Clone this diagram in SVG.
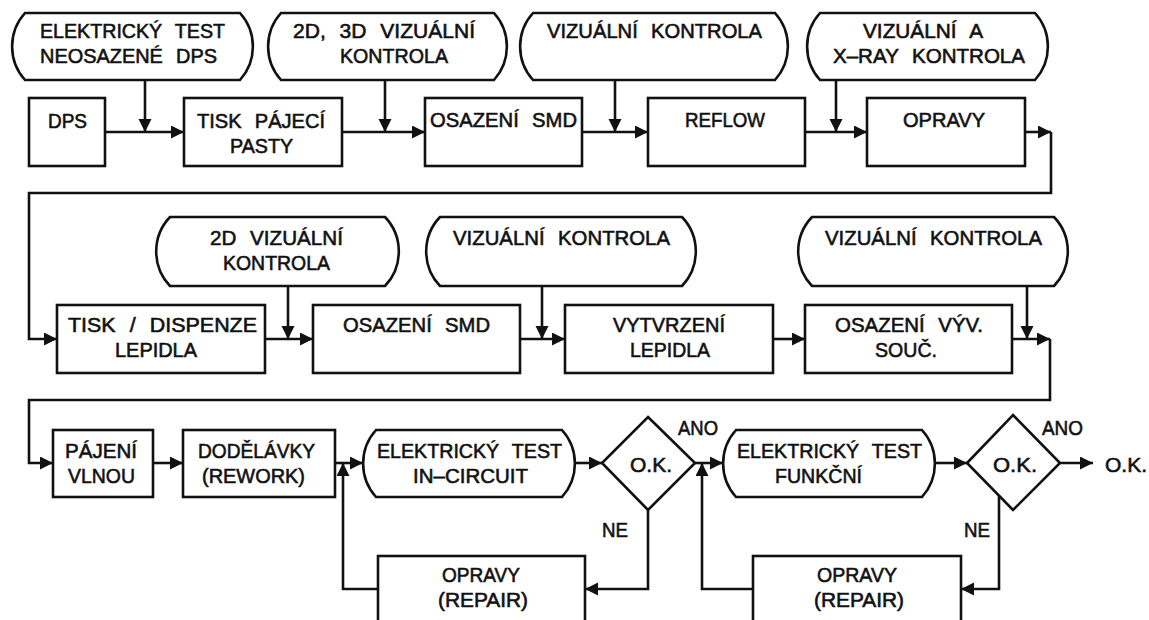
<svg xmlns="http://www.w3.org/2000/svg" width="1149" height="620" viewBox="0 0 1149 620">
<style>
.b{fill:#fff;stroke:#111;stroke-width:2.6}
.c{fill:none;stroke:#111;stroke-width:2.6}
text{font-family:"Liberation Sans",Arial,sans-serif;font-size:21px;fill:#111;stroke:#111;stroke-width:0.6;text-anchor:middle;word-spacing:8px}
</style>
<defs>
<marker id="a" markerUnits="userSpaceOnUse" markerWidth="14" markerHeight="14" refX="13" refY="6.5" orient="auto"><path d="M0,0 L13,6.5 L0,13 z" fill="#111"/></marker>
</defs>
<rect width="1149" height="620" fill="#fff"/>
<g id="connectors" class="c">
<path class="c" d="M105,132 H184" marker-end="url(#a)"/>
<path class="c" d="M145,80 V132" marker-end="url(#a)"/>
<path class="c" d="M342,132 H425" marker-end="url(#a)"/>
<path class="c" d="M385,80 V132" marker-end="url(#a)"/>
<path class="c" d="M582,132 H648" marker-end="url(#a)"/>
<path class="c" d="M615,80 V132" marker-end="url(#a)"/>
<path class="c" d="M805,132 H867" marker-end="url(#a)"/>
<path class="c" d="M836,80 V132" marker-end="url(#a)"/>
<path class="c" d="M1025,132 H1051" marker-end="url(#a)"/>
<path class="c" d="M1051,132 V193 H29 V339 H57" marker-end="url(#a)"/>
<path class="c" d="M265,339 H313" marker-end="url(#a)"/>
<path class="c" d="M288,286 V339" marker-end="url(#a)"/>
<path class="c" d="M520,339 H565" marker-end="url(#a)"/>
<path class="c" d="M542,286 V339" marker-end="url(#a)"/>
<path class="c" d="M773,339 H805" marker-end="url(#a)"/>
<path class="c" d="M1027,286 V339" marker-end="url(#a)"/>
<path class="c" d="M1012,339 H1050" marker-end="url(#a)"/>
<path class="c" d="M1050,339 V400 H29 V463 H53" marker-end="url(#a)"/>
<path class="c" d="M153,463 H183" marker-end="url(#a)"/>
<path class="c" d="M335,463 H363" marker-end="url(#a)"/>
<path class="c" d="M378,589 H343 V463" marker-end="url(#a)"/>
<path class="c" d="M575,463 H602" marker-end="url(#a)"/>
<path class="c" d="M695,463 H723" marker-end="url(#a)"/>
<path class="c" d="M648,510 V589 H585" marker-end="url(#a)"/>
<path class="c" d="M753,589 H702 V463" marker-end="url(#a)"/>
<path class="c" d="M935,463 H967" marker-end="url(#a)"/>
<path class="c" d="M1060,463 H1093" marker-end="url(#a)"/>
<path class="c" d="M999,496 V589 H961" marker-end="url(#a)"/>
</g>
<g id="t1"><path class="b" d="M25,13 H240 A50,50 0 0 1 240,80 H25 A50,50 0 0 1 25,13 Z"/><text x="132.5" y="38" textLength="185" lengthAdjust="spacingAndGlyphs">ELEKTRICKÝ TEST</text><text x="128.5" y="63" textLength="177" lengthAdjust="spacingAndGlyphs">NEOSAZENÉ DPS</text></g>
<g id="t2"><path class="b" d="M281,13 H494 A50,50 0 0 1 494,80 H281 A50,50 0 0 1 281,13 Z"/><text x="384" y="38" textLength="182" lengthAdjust="spacingAndGlyphs">2D, 3D VIZUÁLNÍ</text><text x="394" y="63" textLength="108" lengthAdjust="spacingAndGlyphs">KONTROLA</text></g>
<g id="t3"><path class="b" d="M533,13 H775 A50,50 0 0 1 775,80 H533 A50,50 0 0 1 533,13 Z"/><text x="654.5" y="38" textLength="215" lengthAdjust="spacingAndGlyphs">VIZUÁLNÍ KONTROLA</text></g>
<g id="t4"><path class="b" d="M820,13 H1035 A50,50 0 0 1 1035,80 H820 A50,50 0 0 1 820,13 Z"/><text x="923" y="38" textLength="120" lengthAdjust="spacingAndGlyphs">VIZUÁLNÍ A</text><text x="929" y="63" textLength="192" lengthAdjust="spacingAndGlyphs">X–RAY KONTROLA</text></g>
<g id="dps"><rect class="b" x="29" y="98" width="76" height="68"/><text x="67.5" y="128" textLength="39" lengthAdjust="spacingAndGlyphs">DPS</text></g>
<g id="tisk"><rect class="b" x="184" y="98" width="158" height="68"/><text x="261" y="128" textLength="128" lengthAdjust="spacingAndGlyphs">TISK PÁJECÍ</text><text x="261.5" y="153" textLength="63" lengthAdjust="spacingAndGlyphs">PASTY</text></g>
<g id="osazeni1"><rect class="b" x="425" y="98" width="157" height="68"/><text x="503.5" y="127" textLength="147" lengthAdjust="spacingAndGlyphs">OSAZENÍ SMD</text></g>
<g id="reflow"><rect class="b" x="648" y="98" width="157" height="68"/><text x="725" y="127" textLength="80" lengthAdjust="spacingAndGlyphs">REFLOW</text></g>
<g id="opravy1"><rect class="b" x="867" y="98" width="158" height="68"/><text x="944" y="127" textLength="82" lengthAdjust="spacingAndGlyphs">OPRAVY</text></g>
<g id="t5"><path class="b" d="M170,217 H385 A50,50 0 0 1 385,286 H170 A50,50 0 0 1 170,217 Z"/><text x="276.5" y="245" textLength="133" lengthAdjust="spacingAndGlyphs">2D VIZUÁLNÍ</text><text x="276.5" y="270" textLength="107" lengthAdjust="spacingAndGlyphs">KONTROLA</text></g>
<g id="t6"><path class="b" d="M440,217 H682 A50,50 0 0 1 682,286 H440 A50,50 0 0 1 440,217 Z"/><text x="561.5" y="245" textLength="217" lengthAdjust="spacingAndGlyphs">VIZUÁLNÍ KONTROLA</text></g>
<g id="t7"><path class="b" d="M812,217 H1054 A50,50 0 0 1 1054,286 H812 A50,50 0 0 1 812,217 Z"/><text x="933.5" y="245" textLength="217" lengthAdjust="spacingAndGlyphs">VIZUÁLNÍ KONTROLA</text></g>
<g id="disp"><rect class="b" x="57" y="305" width="208" height="68"/><text x="162.5" y="332" textLength="189" lengthAdjust="spacingAndGlyphs">TISK / DISPENZE</text><text x="156" y="357" textLength="82" lengthAdjust="spacingAndGlyphs">LEPIDLA</text></g>
<g id="osazeni2"><rect class="b" x="313" y="305" width="207" height="68"/><text x="416.5" y="332" textLength="147" lengthAdjust="spacingAndGlyphs">OSAZENÍ SMD</text></g>
<g id="vytvrz"><rect class="b" x="565" y="305" width="208" height="68"/><text x="669" y="332" textLength="112" lengthAdjust="spacingAndGlyphs">VYTVRZENÍ</text><text x="670" y="357" textLength="80" lengthAdjust="spacingAndGlyphs">LEPIDLA</text></g>
<g id="vyv"><rect class="b" x="805" y="305" width="207" height="68"/><text x="909" y="332" textLength="148" lengthAdjust="spacingAndGlyphs">OSAZENÍ VÝV.</text><text x="906" y="357" textLength="62" lengthAdjust="spacingAndGlyphs">SOUČ.</text></g>
<g id="pajeni"><rect class="b" x="53" y="430" width="100" height="67"/><text x="101" y="458" textLength="72" lengthAdjust="spacingAndGlyphs">PÁJENÍ</text><text x="101.5" y="483" textLength="67" lengthAdjust="spacingAndGlyphs">VLNOU</text></g>
<g id="rework"><rect class="b" x="183" y="430" width="152" height="67"/><text x="256.5" y="458" textLength="117" lengthAdjust="spacingAndGlyphs">DODĚLÁVKY</text><text x="253.5" y="483" textLength="103" lengthAdjust="spacingAndGlyphs">(REWORK)</text></g>
<g id="t8"><path class="b" d="M376,430 H562 A50,50 0 0 1 562,497 H376 A50,50 0 0 1 376,430 Z"/><text x="469.5" y="458" textLength="185" lengthAdjust="spacingAndGlyphs">ELEKTRICKÝ TEST</text><text x="470.5" y="483" textLength="115" lengthAdjust="spacingAndGlyphs">IN–CIRCUIT</text></g>
<g id="d1"><polygon class="b" points="648,417 695,463 648,510 602,463"/><text x="651" y="472" textLength="42" lengthAdjust="spacingAndGlyphs">O.K.</text></g>
<g id="t9"><path class="b" d="M736,430 H922 A50,50 0 0 1 922,497 H736 A50,50 0 0 1 736,430 Z"/><text x="829.5" y="458" textLength="185" lengthAdjust="spacingAndGlyphs">ELEKTRICKÝ TEST</text><text x="818.5" y="483" textLength="87" lengthAdjust="spacingAndGlyphs">FUNKČNÍ</text></g>
<g id="d2"><polygon class="b" points="1013,415 1060,463 1013,510 967,463"/><text x="1015" y="472" textLength="44" lengthAdjust="spacingAndGlyphs">O.K.</text></g>
<g id="rep1"><rect class="b" x="378" y="556" width="207" height="80"/><text x="481" y="582" textLength="78" lengthAdjust="spacingAndGlyphs">OPRAVY</text><text x="483" y="607" textLength="90" lengthAdjust="spacingAndGlyphs">(REPAIR)</text></g>
<g id="rep2"><rect class="b" x="753" y="556" width="208" height="80"/><text x="857" y="582" textLength="80" lengthAdjust="spacingAndGlyphs">OPRAVY</text><text x="859" y="607" textLength="90" lengthAdjust="spacingAndGlyphs">(REPAIR)</text></g>
<g id="labels">
<text x="698" y="435" textLength="40" lengthAdjust="spacingAndGlyphs">ANO</text>
<text x="615" y="537" textLength="26" lengthAdjust="spacingAndGlyphs">NE</text>
<text x="1062.5" y="435" textLength="41" lengthAdjust="spacingAndGlyphs">ANO</text>
<text x="977" y="537" textLength="26" lengthAdjust="spacingAndGlyphs">NE</text>
<text x="1105" y="472" style="text-anchor:start" textLength="42" lengthAdjust="spacingAndGlyphs">O.K.</text>
</g>
</svg>
